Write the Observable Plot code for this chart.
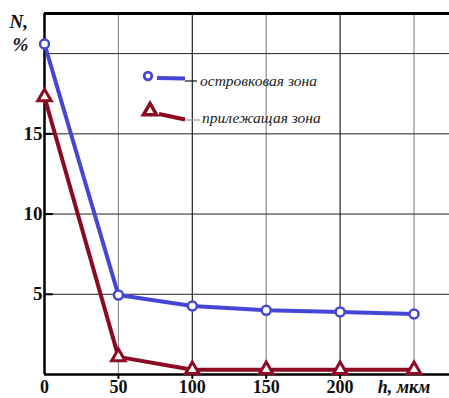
<!DOCTYPE html>
<html><head><meta charset="utf-8">
<script src="https://cdn.jsdelivr.net/npm/d3@7"></script>
<script src="https://cdn.jsdelivr.net/npm/@observablehq/plot@0.6"></script>
<style>
body{margin:0;background:#fff}
#wrap{width:449px;height:398px}
</style></head><body><div id="wrap"></div>
<script>
const depths = [0, 50, 100, 150, 200, 250];
const islandZone = [20.6, 4.95, 4.27, 4.0, 3.9, 3.77];
const adjacentZone = [17.3, 1.1, 0.3, 0.3, 0.3, 0.3];
const seriesNames = ["островковая зона", "прилежащая зона"];
const xTickLabels = [0, 50, 100, 150, 200];
const yTickLabels = [5, 10, 15];
const gridX = [50, 100, 150, 200, 250];
const gridY = [5, 10, 15, 20];
const xTitle = "h, мкм";
const yTitle = ["N,", "%"];

const BLUE = "#4646d6", RED = "#8c0a22";
const blueData = depths.map((d, i) => ({x: d, y: islandZone[i]}));
const redData = depths.map((d, i) => ({x: d, y: adjacentZone[i]}));

function legend() {
  const g = d3.create("svg:g");
  const rows = [
    {c: BLUE, sym: "circle", mx: 148, my: 76, l: [157, 78, 185, 78.5], ld: [185, 81, 197, 81], lead: "#111", tx: 200, ty: 81},
    {c: RED, sym: "triangle", mx: 150, my: 111, l: [159, 114, 185, 119.5], ld: [185, 120, 200, 120], lead: "#999", tx: 202, ty: 118}
  ];
  rows.forEach((r, i) => {
    g.append("line").attr("x1", r.l[0]).attr("y1", r.l[1]).attr("x2", r.l[2]).attr("y2", r.l[3])
      .attr("stroke", r.c).attr("stroke-width", 4);
    g.append("line").attr("x1", r.ld[0]).attr("y1", r.ld[1]).attr("x2", r.ld[2]).attr("y2", r.ld[3])
      .attr("stroke", r.lead).attr("stroke-width", 1.2);
    if (r.sym === "circle") {
      g.append("circle").attr("cx", r.mx).attr("cy", r.my).attr("r", 3.8).attr("fill", "white")
        .attr("stroke", r.c).attr("stroke-width", 2.8);
    } else {
      g.append("path").attr("d", d3.symbol(d3.symbolTriangle, 75)()).attr("transform", `translate(${r.mx},${r.my})`)
        .attr("fill", "white").attr("stroke", r.c).attr("stroke-width", 3.5);
    }
    g.append("text").attr("x", r.tx).attr("y", r.ty).attr("dy", "0.35em")
      .attr("text-anchor", "start")
      .attr("font-family", "Liberation Serif").attr("font-style", "italic").attr("font-size", 15.5)
      .attr("fill", "#222").text(seriesNames[i]);
  });
  return g.node();
}

const chart = Plot.plot({
  width: 449,
  height: 398,
  marginLeft: 44,
  marginRight: 0,
  marginTop: 13,
  marginBottom: 24,
  x: {domain: [0, 274], axis: null},
  y: {domain: [0, 22.5], axis: null},
  style: {fontFamily: "Liberation Serif", background: "white", overflow: "visible"},
  marks: [
    Plot.ruleX(gridX, {x: d => d, stroke: d => (d / 50) % 2 ? "#8e8e8e" : "#222", strokeWidth: 1.2}),
    Plot.ruleY(gridY, {y: d => d, stroke: "#222", strokeWidth: 1}),
    Plot.ruleY(yTickLabels, {y: d => d, x1: 0, x2: 6, stroke: "#000", strokeWidth: 2}),
    Plot.ruleX(xTickLabels.slice(1), {x: d => d, y1: 0, y2: -0.3, stroke: "#000", strokeWidth: 2}),
    Plot.ruleY([22.5], {stroke: "#000", strokeWidth: 3}),
    Plot.ruleX([0], {stroke: "#000", strokeWidth: 2.5}),
    Plot.ruleY([0], {stroke: "#000", strokeWidth: 2.5}),
    Plot.line(blueData, {x: "x", y: "y", stroke: BLUE, strokeWidth: 4}),
    Plot.line(redData, {x: "x", y: "y", stroke: RED, strokeWidth: 4}),
    Plot.dot(blueData, {x: "x", y: "y", r: 4.5, fill: "white", stroke: BLUE, strokeWidth: 2.5}),
    Plot.dot(redData, {x: "x", y: "y", symbol: "triangle", r: 5, fill: "white", stroke: RED, strokeWidth: 3}),
    Plot.text(xTickLabels, {x: d => d, y: 0, text: d => String(d), dy: 13, fontSize: 18, fontWeight: "bold", fill: "#111"}),
    Plot.text(yTickLabels, {x: 0, y: d => d, text: d => String(d), dx: -2, textAnchor: "end", fontSize: 19, fontWeight: "bold", fill: "#111"}),
    Plot.text([xTitle], {x: depths[depths.length - 1], y: 0, text: d => d, dy: 13, dx: -10, fontSize: 18, fontWeight: "bold", fontStyle: "italic", fill: "#111"}),
    Plot.text([yTitle[0]], {frameAnchor: "top-left", text: d => d, dx: -35, dy: 1, fontSize: 19, fontWeight: "bold", fontStyle: "italic", fill: "#111"}),
    Plot.text([yTitle[1]], {frameAnchor: "top-left", text: d => d, dx: -32, dy: 24, fontSize: 19, fontWeight: "bold", fontStyle: "italic", fill: "#111"}),
    legend
  ]
});
document.getElementById("wrap").append(chart);
</script></body></html>
